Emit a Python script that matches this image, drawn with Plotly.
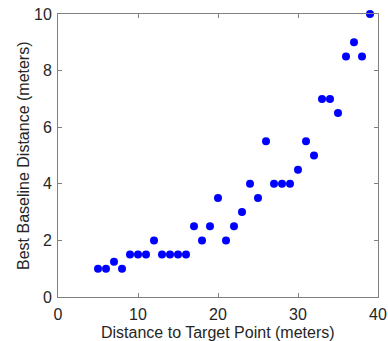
import plotly.graph_objects as go

distance = [5, 6, 7, 8, 9, 10, 11, 12, 13, 14, 15, 16, 17, 18, 19, 20, 21, 22,
            23, 24, 25, 26, 27, 28, 29, 30, 31, 32, 33, 34, 35, 36, 37, 38, 39]
baseline = [1, 1, 1.25, 1, 1.5, 1.5, 1.5, 2, 1.5, 1.5, 1.5, 1.5, 2.5, 2, 2.5, 3.5, 2, 2.5,
            3, 4, 3.5, 5.5, 4, 4, 4, 4.5, 5.5, 5, 7, 7, 6.5, 8.5, 9, 8.5, 10]
x_ticks = [0, 10, 20, 30, 40]
y_ticks = [0, 2, 4, 6, 8, 10]
x_title = "Distance to Target Point (meters)"
y_title = "Best Baseline Distance (meters)"

FONT = dict(family="Liberation Sans, Arial", size=16, color="#262626")

fig = go.Figure(go.Scatter(
    x=distance, y=baseline, mode="markers",
    marker=dict(color="#0000ff", size=8, line=dict(width=0)),
    cliponaxis=False,
))

axis_common = dict(
    showgrid=False, zeroline=False, showline=True, linecolor="#808080", linewidth=1,
    mirror="ticks", ticks="inside", ticklen=4, tickcolor="#808080",
    tickfont=FONT, automargin=False,
)
fig.update_xaxes(range=[0, 40], tickvals=x_ticks, ticklabelstandoff=3, **axis_common)
fig.update_yaxes(range=[0, 10], tickvals=y_ticks, ticklabelstandoff=2, **axis_common)
fig.add_annotation(text=x_title, xref="paper", yref="paper", x=0.5, y=0,
                   xanchor="center", yanchor="top", yshift=-25, showarrow=False, font=FONT)
fig.add_annotation(text=y_title, xref="paper", yref="paper", x=0, y=0.5, textangle=-90,
                   xanchor="right", yanchor="middle", xshift=-24, showarrow=False, font=FONT)
fig.update_layout(
    width=388, height=341, paper_bgcolor="white", plot_bgcolor="white",
    margin=dict(l=58, r=10, t=14, b=44), showlegend=False,
)
fig.write_html("out.html", config={"displayModeBar": False},
               post_script="document.body.style.margin='0';document.body.style.overflow='hidden';")
